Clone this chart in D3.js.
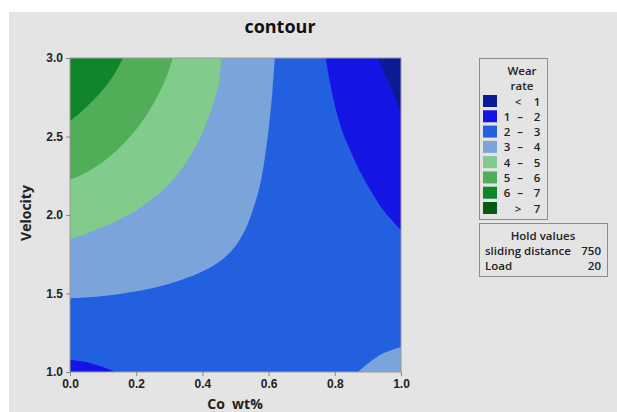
<!doctype html>
<html>
<head>
  <meta charset="UTF-8" />
  <title>contour</title>
  <style>
    html, body { margin: 0; padding: 0; background: #fff; }
    svg { display: block; font-family: "Open Sans", "DejaVu Sans", sans-serif; }
    .tick text { font-size: 12px; font-weight: 600; fill: #222; }
    .tick line { stroke: #8a8a8a; }
  </style>
</head>
<body>
  <svg id="chart" width="617" height="412"></svg>
  <script src="https://cdn.jsdelivr.net/npm/d3@7"></script>
  <script>
    // legend
    const rangeFrom = ['<', '1', '2', '3', '4', '5', '6', '>'];
    const rangeTo = ['1', '2', '3', '4', '5', '6', '7', '7'];
    const wearColors = ['#0b1b96', '#1414e4', '#2360e0', '#7ba5da', '#81cb8d', '#50ad58', '#0f862a', '#035a12'];

    // ticks
    const coTicks = [0, 0.2, 0.4, 0.6, 0.8, 1.0];
    const velTicks = [1.0, 1.5, 2.0, 2.5, 3.0];

    // contour lines, [Co wt%, Velocity]
    const level3Left = [[0.619, 3.0], [0.612, 2.8], [0.603, 2.6], [0.591, 2.4], [0.575, 2.2], [0.555, 2.05], [0.53, 1.91], [0.495, 1.79], [0.45, 1.70], [0.39, 1.63], [0.32, 1.575], [0.24, 1.53], [0.15, 1.497], [0.07, 1.478], [0, 1.47]];
    const level4Left = [[0.458, 3.0], [0.45, 2.85], [0.432, 2.7], [0.405, 2.55], [0.37, 2.4], [0.325, 2.26], [0.27, 2.14], [0.20, 2.03], [0.13, 1.95], [0.06, 1.89], [0, 1.845]];
    const level5Left = [[0.31, 3.0], [0.295, 2.9], [0.27, 2.78], [0.235, 2.65], [0.19, 2.52], [0.14, 2.41], [0.08, 2.31], [0.03, 2.25], [0, 2.227]];
    const level6Left = [[0.16, 3.0], [0.135, 2.9], [0.10, 2.8], [0.06, 2.71], [0.025, 2.64], [0, 2.6]];
    const level2Right = [[0.773, 3.0], [0.785, 2.85], [0.80, 2.7], [0.82, 2.55], [0.845, 2.42], [0.875, 2.28], [0.91, 2.15], [0.95, 2.02], [1.0, 1.904]];
    const level1Right = [[0.93, 3.0], [0.965, 2.83], [1.0, 2.656]];
    const level2Corner = [[0, 1.078], [0.06, 1.058], [0.10, 1.032], [0.136, 1.0]];
    const level3Corner = [[0.87, 1.0], [0.91, 1.07], [0.95, 1.122], [1.0, 1.16]];

    // which corner closes each band, and its colour index
    const bands = [
      { line: level3Left, corner: [0, 3], band: 3 },
      { line: level4Left, corner: [0, 3], band: 4 },
      { line: level5Left, corner: [0, 3], band: 5 },
      { line: level6Left, corner: [0, 3], band: 6 },
      { line: level2Right, corner: [1, 3], band: 1 },
      { line: level1Right, corner: [1, 3], band: 0 },
      { line: level2Corner, corner: [0, 1], band: 1 },
      { line: level3Corner, corner: [1, 1], band: 3 }
    ];

    const svg = d3.select('#chart');
    const margin = { left: 70, top: 58, right: 401, bottom: 372 };
    const ink = '#222';

    svg.append('rect')
      .attr('x', 9).attr('y', 12)
      .attr('width', 608).attr('height', 400)
      .attr('fill', '#e4e4e4');

    const x = d3.scaleLinear().domain([0, 1]).range([margin.left, margin.right]);
    const y = d3.scaleLinear().domain([1, 3]).range([margin.bottom, margin.top]);

    svg.append('clipPath').attr('id', 'plotClip')
      .append('rect')
      .attr('x', x(0)).attr('y', y(3))
      .attr('width', x(1) - x(0)).attr('height', y(1) - y(3));

    const plot = svg.append('g').attr('clip-path', 'url(#plotClip)');

    // base band 2 - 3 covers everything
    plot.append('rect')
      .attr('x', x(0)).attr('y', y(3))
      .attr('width', x(1) - x(0)).attr('height', y(1) - y(3))
      .attr('fill', wearColors[2]);

    const line = d3.line()
      .x(d => x(d[0]))
      .y(d => y(d[1]))
      .curve(d3.curveCatmullRom.alpha(0.5));

    plot.selectAll('path.band')
      .data(bands)
      .join('path')
      .attr('class', 'band')
      .attr('fill', d => wearColors[d.band])
      .attr('d', d => line(d.line) + `L${x(d.corner[0])},${y(d.corner[1])}Z`);

    svg.append('rect')
      .attr('x', x(0)).attr('y', y(3))
      .attr('width', x(1) - x(0)).attr('height', y(1) - y(3))
      .attr('fill', 'none')
      .attr('stroke', '#9c9c9c')
      .attr('stroke-width', 1);

    const xAxis = svg.append('g')
      .attr('transform', `translate(0,${margin.bottom})`)
      .call(d3.axisBottom(x).tickValues(coTicks).tickFormat(d3.format('.1f')).tickSize(4).tickPadding(3));
    xAxis.select('.domain').remove();

    const yAxis = svg.append('g')
      .attr('transform', `translate(${margin.left},0)`)
      .call(d3.axisLeft(y).tickValues(velTicks).tickFormat(d3.format('.1f')).tickSize(4).tickPadding(3));
    yAxis.select('.domain').remove();

    // titles
    svg.append('text')
      .attr('x', 280).attr('y', 33)
      .attr('text-anchor', 'middle')
      .style('font-size', '18px').style('font-weight', 700).style('fill', '#111')
      .text('contour');

    svg.append('text')
      .attr('x', 235).attr('y', 409)
      .attr('text-anchor', 'middle')
      .style('white-space', 'pre')
      .style('font-size', '14px').style('font-weight', 700).style('fill', ink)
      .text('Co  wt%');

    svg.append('text')
      .attr('transform', 'translate(31,213) rotate(-90)')
      .attr('text-anchor', 'middle')
      .style('font-size', '14px').style('font-weight', 700).style('fill', ink)
      .text('Velocity');

    // legend
    const legend = svg.append('g')
      .style('font-size', '11.5px').style('font-weight', 600).style('fill', ink);

    legend.append('rect')
      .attr('x', 479.5).attr('y', 58.5)
      .attr('width', 68).attr('height', 161)
      .attr('fill', 'none').attr('stroke', '#8c8c8c');

    legend.append('text').attr('x', 522).attr('y', 75)
      .attr('text-anchor', 'middle')
      .text('Wear');
    legend.append('text').attr('x', 522).attr('y', 90)
      .attr('text-anchor', 'middle')
      .text('rate');

    const rowY = d3.scaleLinear().domain([0, 7]).range([101, 208]);
    const rows = legend.selectAll('g.row')
      .data(rangeFrom)
      .join('g')
      .attr('class', 'row')
      .attr('transform', (d, i) => `translate(0,${rowY(i)})`);

    rows.append('rect')
      .attr('x', 483).attr('y', -6)
      .attr('width', 14).attr('height', 12)
      .attr('fill', (d, i) => wearColors[i]);

    rows.append('text')
      .attr('x', d => (d === '<' || d === '>') ? 518 : 507)
      .attr('y', 4.5)
      .attr('text-anchor', 'middle')
      .text(d => d);

    rows.filter(d => d !== '<' && d !== '>')
      .append('text')
      .attr('x', 520).attr('y', 4.5)
      .attr('text-anchor', 'middle')
      .text('–');

    rows.append('text')
      .attr('x', 537).attr('y', 4.5)
      .attr('text-anchor', 'middle')
      .text((d, i) => rangeTo[i]);

    // hold values
    const hold = svg.append('g')
      .style('font-size', '11.5px').style('font-weight', 600).style('fill', ink);

    hold.append('rect')
      .attr('x', 479.5).attr('y', 223.5)
      .attr('width', 128).attr('height', 53)
      .attr('fill', 'none').attr('stroke', '#8c8c8c');

    hold.append('text').attr('x', 543).attr('y', 240)
      .attr('text-anchor', 'middle')
      .text('Hold values');
    hold.append('text').attr('x', 485).attr('y', 255)
      .text('sliding distance');
    hold.append('text').attr('x', 601).attr('y', 255)
      .attr('text-anchor', 'end')
      .text('750');
    hold.append('text').attr('x', 485).attr('y', 270)
      .text('Load');
    hold.append('text').attr('x', 601).attr('y', 270)
      .attr('text-anchor', 'end')
      .text('20');
  </script>
</body>
</html>
